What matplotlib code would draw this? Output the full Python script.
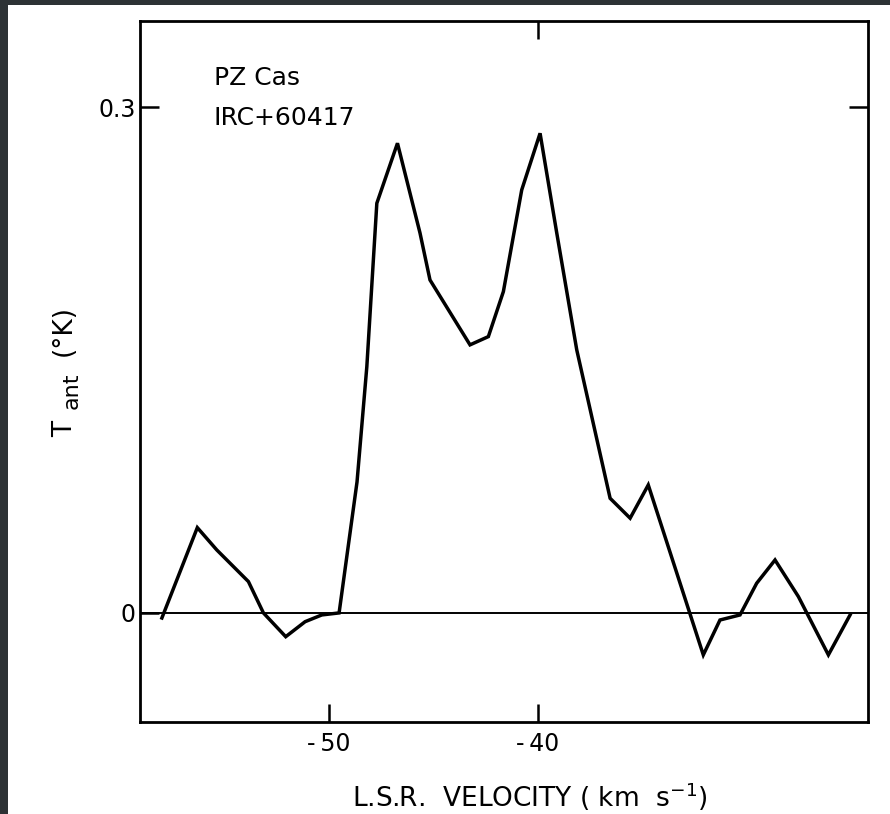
import matplotlib.pyplot as plt
from matplotlib.patches import Rectangle

# spectrum
velocity = [-58.02, -56.32, -55.39, -53.87, -53.15, -52.08, -51.15, -50.35,
            -49.52, -48.66, -48.19, -47.71, -46.72, -45.64, -45.16, -43.24,
            -42.36, -41.64, -40.76, -39.88, -39.08, -38.12, -36.52, -35.56,
            -34.69, -32.05, -31.25, -30.29, -29.49, -28.61, -27.49, -26.05,
            -25.01]
t_ant = [-0.003, 0.0506, 0.0374, 0.0186, 0.0, -0.0141, -0.0052, -0.0012,
         0.0, 0.0777, 0.146, 0.243, 0.2786, 0.2254, 0.1975, 0.159,
         0.1639, 0.1906, 0.2509, 0.2845, 0.2254, 0.156, 0.068, 0.0562,
         0.0759, -0.0249, -0.0042, -0.0012, 0.0176, 0.0314, 0.0097, -0.0249,
         -0.0012]

x_ticks = [-50, -40]
x_tick_labels = ['-\u200950', '-\u200940']
y_ticks = [0, 0.3]
y_tick_labels = ['0', '0.3']
source_lines = ['PZ Cas', 'IRC+60417']

plt.rcParams['font.family'] = 'DejaVu Sans'
plt.rcParams['axes.unicode_minus'] = False
fs = 17

W, H = 890, 814
fig = plt.figure(figsize=(8.9, 8.14), dpi=100)
fig.patch.set_facecolor('#2d3235')
fig.add_artist(Rectangle((8 / W, 0), 1, 1 - 5 / H, transform=fig.transFigure,
                         facecolor='white', edgecolor='none', zorder=-1))

ax = fig.add_axes([140 / W, 1 - 722 / H, 728 / W, 701 / H])
ax.set_xlim(-59.07, -24.15)
ax.set_ylim(-0.0647, 0.3511)

ax.axhline(0, color='black', lw=1.4)
ax.plot(velocity, t_ant, color='black', lw=2.5, solid_joinstyle='miter')

for s in ax.spines.values():
    s.set_linewidth(2.0)

ax.set_xticks(x_ticks)
ax.set_xticklabels(x_tick_labels, fontsize=fs)
ax.set_yticks(y_ticks)
ax.set_yticklabels(y_tick_labels, fontsize=fs)
ax.tick_params(axis='x', direction='in', length=13, width=1.8, pad=7,
               top=True, labeltop=False)
ax.tick_params(axis='y', direction='in', length=14, width=1.8, pad=3,
               right=True, labelright=False)
# top tick only at -40, right tick only at 0.3
for t in ax.xaxis.get_major_ticks():
    t.tick2line.set_visible(t.get_loc() == -40)
for t in ax.yaxis.get_major_ticks():
    t.tick2line.set_visible(t.get_loc() == 0.3)

ax.text(0.1016, 0.919, source_lines[0], transform=ax.transAxes,
        fontsize=18, va='center', ha='left')
ax.text(0.1016, 0.862, source_lines[1], transform=ax.transAxes,
        fontsize=18, va='center', ha='left')

ax.text(0.536, -0.107, r'L.S.R.  VELOCITY ( km  s$^{\mathsf{-1}}$)',
        transform=ax.transAxes, fontsize=19, ha='center', va='center')

# y label in pieces: T, subscript ant, (°K)
fig.text(65 / W, 1 - 429 / H, 'T', fontsize=19, rotation=90,
         ha='center', va='center')
fig.text(72 / W, 1 - 391 / H, 'ant', fontsize=16, rotation=90,
         ha='center', va='center')
fig.text(64 / W, 1 - 330 / H, '(\u00b0K)', fontsize=19, rotation=90,
         ha='center', va='center')

fig.savefig('out.png', dpi=100, facecolor=fig.get_facecolor())
